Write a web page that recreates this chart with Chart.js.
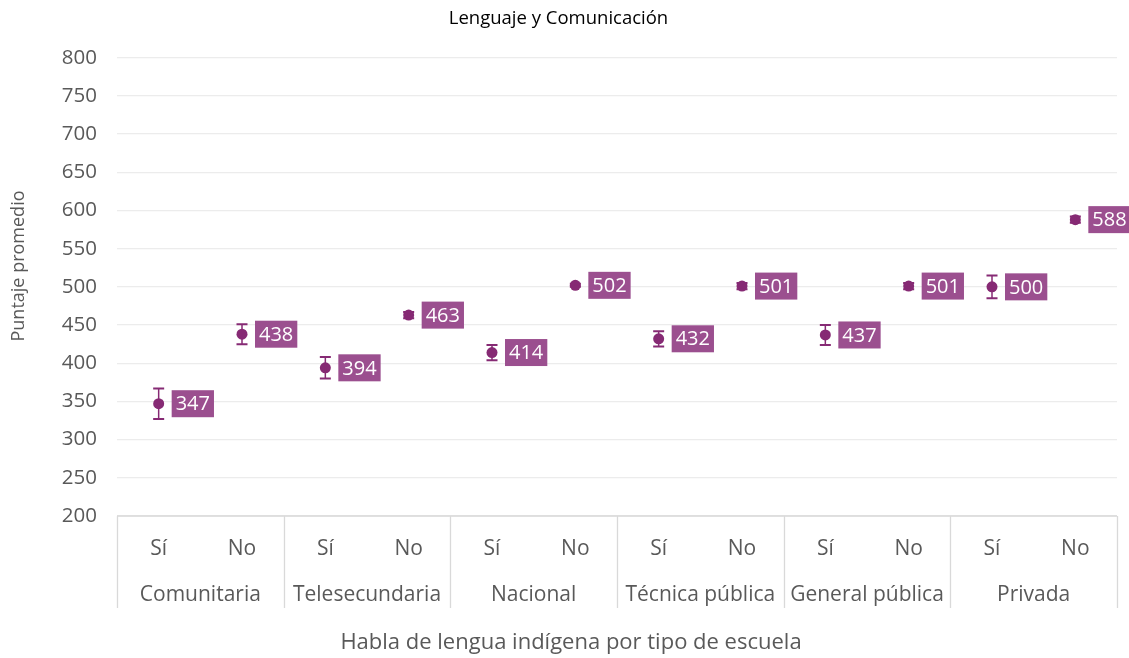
<!DOCTYPE html>
<html>
<head>
<meta charset="utf-8">
<script src="https://cdn.jsdelivr.net/npm/chart.js@4.4.1/dist/chart.umd.min.js"></script>
<style>
  html, body { margin: 0; padding: 0; background: #fff; }
  #wrap { width: 1129px; height: 658px; }
</style>
</head>
<body>
<div id="wrap"><canvas id="myChart" width="1129" height="658"></canvas></div>
<script>
// data
const schoolTypes = ['Comunitaria', 'Telesecundaria', 'Nacional', 'Técnica pública', 'General pública', 'Privada'];
const speaksLabels = ['Sí', 'No'];
const meanScores = [347, 438, 394, 463, 414, 502, 432, 501, 437, 501, 500, 588];
const errorHalf = [20, 13, 14, 4, 10, 2, 10, 4, 13, 4, 15, 4];
const yTicks = { min: 200, max: 800, step: 50 };

const FONT = "'Open Sans', 'DejaVu Sans', sans-serif";
const TEXT = '#595959';
const POINT = '#862a74';
const LABEL_BG = '#9b4f8f';

const categories = schoolTypes.flatMap(t => speaksLabels.map(s => t + ' ' + s));

// error bars (drawn from the y scale)
const errorBars = {
    id: 'errorBars',
    afterDatasetsDraw(chart) {
        const ctx = chart.ctx;
        const y = chart.scales.y;
        const meta = chart.getDatasetMeta(0);
        ctx.save();
        ctx.strokeStyle = POINT;
        meta.data.forEach((pt, i) => {
            const top = y.getPixelForValue(meanScores[i] + errorHalf[i]);
            const bot = y.getPixelForValue(meanScores[i] - errorHalf[i]);
            ctx.lineWidth = 1.5;
            ctx.beginPath();
            ctx.moveTo(pt.x, top); ctx.lineTo(pt.x, bot);
            ctx.stroke();
            ctx.lineWidth = 2;
            ctx.beginPath();
            ctx.moveTo(pt.x - 5.5, top); ctx.lineTo(pt.x + 5.5, top);
            ctx.moveTo(pt.x - 5.5, bot); ctx.lineTo(pt.x + 5.5, bot);
            ctx.stroke();
        });
        ctx.restore();
    }
};

// boxed value labels right of each point
const valueLabels = {
    id: 'valueLabels',
    afterDatasetsDraw(chart) {
        const ctx = chart.ctx;
        const meta = chart.getDatasetMeta(0);
        ctx.save();
        ctx.font = '20px ' + FONT;
        ctx.textBaseline = 'middle';
        ctx.textAlign = 'left';
        meta.data.forEach((pt, i) => {
            const txt = String(meanScores[i]);
            const w = ctx.measureText(txt).width + 8;
            const h = 27;
            const bx = pt.x + 13;
            ctx.fillStyle = LABEL_BG;
            ctx.fillRect(bx, pt.y - h / 2, w, h);
            ctx.fillStyle = '#ffffff';
            ctx.fillText(txt, bx + 4, pt.y + 1);
        });
        ctx.restore();
    }
};

// two-level category axis + axis titles
const groupAxis = {
    id: 'groupAxis',
    afterDraw(chart) {
        const ctx = chart.ctx;
        const x = chart.scales.x;
        const area = chart.chartArea;
        const step = (area.right - area.left) / schoolTypes.length;
        ctx.save();
        ctx.strokeStyle = '#d9d9d9';
        ctx.lineWidth = 1.3;
        ctx.beginPath();
        ctx.moveTo(area.left, area.bottom); ctx.lineTo(area.right, area.bottom);
        for (let g = 0; g <= schoolTypes.length; g++) {
            const gx = Math.round(area.left + g * step) + 0.5;
            ctx.moveTo(gx, area.bottom); ctx.lineTo(gx, area.bottom + 92);
        }
        ctx.stroke();

        ctx.fillStyle = TEXT;
        ctx.font = '21px ' + FONT;
        ctx.textAlign = 'center';
        ctx.textBaseline = 'middle';
        categories.forEach((c, i) => {
            ctx.fillText(speaksLabels[i % 2], x.getPixelForValue(i), area.bottom + 33);
        });
        schoolTypes.forEach((t, g) => {
            ctx.fillText(t, area.left + (g + 0.5) * step, area.bottom + 79);
        });
        ctx.font = '22px ' + FONT;
        ctx.fillText('Habla de lengua indígena por tipo de escuela', 571, area.bottom + 127);

        ctx.translate(19, 266);
        ctx.rotate(-Math.PI / 2);
        ctx.font = '18px ' + FONT;
        ctx.fillText('Puntaje promedio', 0, 0);
        ctx.restore();
    }
};

const ctx = document.getElementById('myChart').getContext('2d');
const myChart = new Chart(ctx, {
    type: 'line',
    data: {
        labels: categories,
        datasets: [{
            label: 'Puntaje promedio',
            data: meanScores,
            showLine: false,
            pointRadius: 5.5,
            pointBackgroundColor: POINT,
            pointBorderColor: POINT,
            pointBorderWidth: 0
        }]
    },
    options: {
        responsive: false,
        animation: false,
        layout: { padding: { top: 0, left: 0, right: 12, bottom: 0 } },
        plugins: {
            legend: { display: false },
            tooltip: { enabled: false },
            title: {
                display: true,
                text: 'Lenguaje y Comunicación',
                color: '#000000',
                font: { family: FONT, size: 18.5, weight: 'normal' },
                padding: { top: 8, bottom: 27.5 }
            }
        },
        scales: {
            x: {
                type: 'category',
                offset: true,
                grid: { display: false },
                border: { display: false },
                ticks: { display: false },
                afterFit(scale) { scale.height = 142; }
            },
            y: {
                min: yTicks.min,
                max: yTicks.max,
                ticks: {
                    stepSize: yTicks.step,
                    color: TEXT,
                    padding: 20,
                    font: { family: FONT, size: 20.5 }
                },
                grid: { color: '#ececec', lineWidth: 1.3, drawTicks: false },
                border: { display: false },
                afterFit(scale) { scale.width = 117; }
            }
        }
    },
    plugins: [errorBars, valueLabels, groupAxis]
});
</script>
</body>
</html>
